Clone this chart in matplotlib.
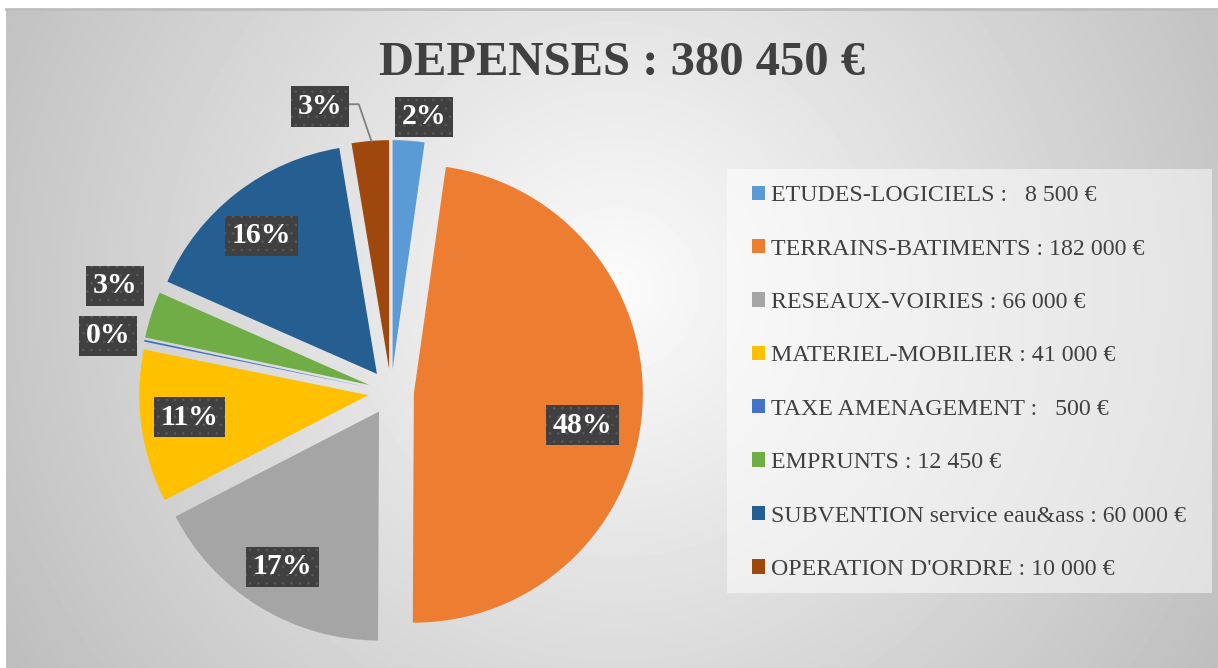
import numpy as np
import matplotlib.pyplot as plt
from matplotlib.patches import Rectangle

plt.rcParams['font.family'] = ['Liberation Serif', 'DejaVu Serif']
plt.rcParams['hatch.linewidth'] = 0.6

title = "DEPENSES : 380 450 €"
categories = ["ETUDES-LOGICIELS", "TERRAINS-BATIMENTS", "RESEAUX-VOIRIES",
              "MATERIEL-MOBILIER", "TAXE AMENAGEMENT", "EMPRUNTS",
              "SUBVENTION service eau&ass", "OPERATION D'ORDRE"]
amounts = [8500, 182000, 66000, 41000, 500, 12450, 60000, 10000]
amount_text = ["  8 500 €", "182 000 €", "66 000 €", "41 000 €",
               "  500 €", "12 450 €", "60 000 €", "10 000 €"]
colors = ["#5B9BD5", "#ED7D31", "#A5A5A5", "#FFC000",
          "#4472C4", "#70AD47", "#255E91", "#9E480E"]

# where the percentage boxes sit: radius and angle shift from wedge middle
label_radius = [1.21, 0.85, 0.90, 0.885, 1.26, 1.29, 0.885, 1.285]
label_turn = [-2.8, -5.65, -0.4, -0.8, 0.55, -3.2, 1.75, 9.3]

W, H = 1218, 668
fig = plt.figure(figsize=(W / 100, H / 100), dpi=100)

# background gradient
bg = fig.add_axes([6 / W, 0, 1 - 6 / W, (H - 9) / H])
yy, xx = np.mgrid[0:H - 9, 0:W - 6]
d = np.hypot(xx - 610, yy - 280)
shade = np.clip(0.985 - 0.23 * d / 680, 0, 1)
bg.imshow(shade, cmap='gray', vmin=0, vmax=1, aspect='auto',
          extent=(0, 1, 0, 1), interpolation='bilinear')
bg.axis('off')
fig.add_artist(plt.Line2D([6 / W, 1], [(H - 9) / H] * 2, color='#bdbdbd', lw=2))

# pie
cx, cy, r = 391, 392, 229
side = 2 * 1.2 * r
ax = fig.add_axes([(cx - side / 2) / W, (H - cy - side / 2) / H, side / W, side / H])
wedges, _ = ax.pie(amounts, colors=colors, explode=[0.1] * len(amounts),
                   startangle=90, counterclock=False, radius=1,
                   wedgeprops=dict(linewidth=0))
ax.set_xlim(-1.2, 1.2)
ax.set_ylim(-1.2, 1.2)
ax.axis('off')

total = sum(amounts)
for i, w in enumerate(wedges):
    mid = (w.theta1 + w.theta2) / 2
    a = np.deg2rad(mid + label_turn[i])
    lx, ly = label_radius[i] * np.cos(a), label_radius[i] * np.sin(a)
    pct = f"{round(100 * amounts[i] / total)}%"
    ax.text(lx, ly, pct, ha='center', va='center', fontsize=21.5,
            fontweight='bold', color='white', zorder=5,
            bbox=dict(boxstyle='square,pad=0.22', facecolor='#404040',
                      edgecolor='#5a5a5a', hatch='..', linewidth=0))
    if categories[i] == "OPERATION D'ORDRE":
        m = np.deg2rad(mid)
        tx, ty = 1.1 * np.cos(m), 1.1 * np.sin(m)
        ax.plot([lx + 0.12, tx - 0.05, tx + 0.005], [ly + 0.01, ly + 0.01, ty],
                color='#808080', lw=1.3, zorder=4, clip_on=False)

fig.text(0.511, (H - 75) / H, title, ha='center', va='baseline',
         fontsize=35, fontweight='bold', color='#404040')

# legend panel
fig.add_artist(Rectangle((727 / W, (H - 593) / H), (1212 - 727) / W, (593 - 169) / H,
                         transform=fig.transFigure, facecolor='white',
                         alpha=0.5, edgecolor='none'))
labels = [f"{c} : {a}" for c, a in zip(categories, amount_text)]
fig.legend(wedges, labels, loc='upper left', bbox_to_anchor=(745 / W, (H - 178) / H),
           frameon=False, fontsize=17.2, labelcolor='#404040',
           handlelength=0.55, handleheight=0.55, handletextpad=0.25,
           labelspacing=1.356, borderpad=0.3, borderaxespad=0)

fig.savefig('out.png', dpi=100)
